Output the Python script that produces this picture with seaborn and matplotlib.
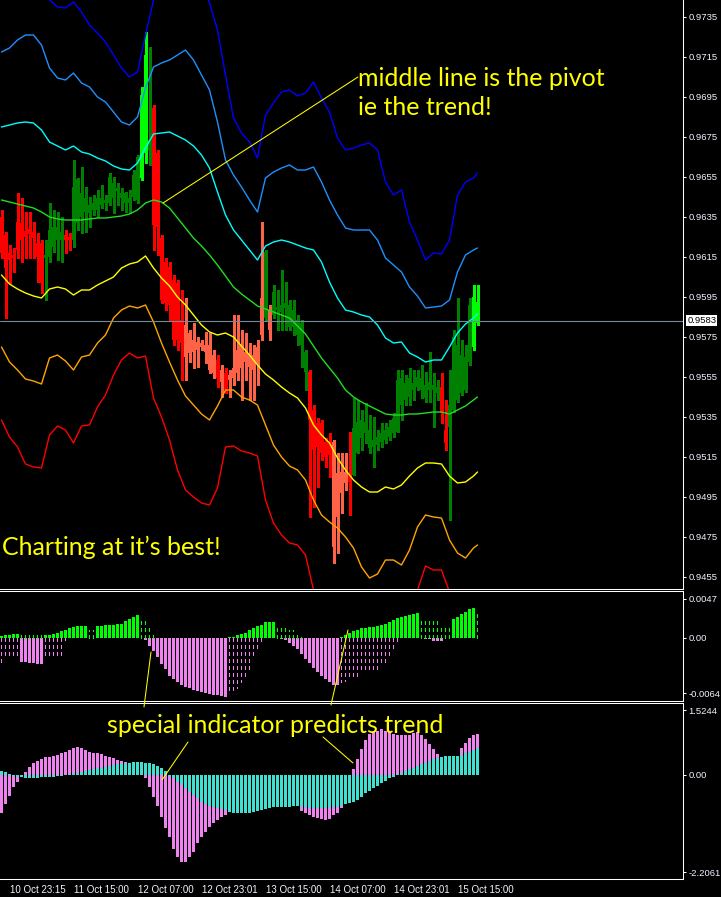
import numpy as np
import pandas as pd
import seaborn as sns
import matplotlib
matplotlib.use("Agg")
import matplotlib.pyplot as plt
from matplotlib.lines import Line2D

# ---------------- data (H1 bars, oldest first) ----------------
# band samples every second bar (+ last bar)
band_bars = list(range(0, 120, 2)) + [119]
blue = [0.97534, 0.97524, 0.97544, 0.97559, 0.97559, 0.97509, 0.97434, 0.97399, 0.97394, 0.97424,
        0.97374, 0.97309, 0.97269, 0.97224, 0.97159, 0.97094, 0.97049, 0.97074, 0.97259, 0.97434,
        0.97559, 0.97634, 0.97659, 0.97659, 0.97609, 0.97524, 0.97419, 0.97284, 0.97059, 0.96844,
        0.96769, 0.96724, 0.96644, 0.96859, 0.96919, 0.96974, 0.96984, 0.96954, 0.96969, 0.97024,
        0.96944, 0.96874, 0.96744, 0.96684, 0.96694, 0.96709, 0.96719, 0.96684, 0.96524, 0.96459,
        0.96484, 0.96324, 0.96234, 0.96134, 0.96169, 0.96164, 0.96234, 0.96459, 0.96524, 0.96544,
        0.96569]
dodger = [0.97174, 0.97194, 0.97234, 0.97259, 0.97259, 0.97209, 0.97094, 0.97044, 0.97034, 0.97069,
          0.97019, 0.96999, 0.96949, 0.96924, 0.96874, 0.96824, 0.96809, 0.96849, 0.96994, 0.97099,
          0.97119, 0.97134, 0.97159, 0.97184, 0.97134, 0.97059, 0.96984, 0.96824, 0.96634, 0.96559,
          0.96499, 0.96434, 0.96374, 0.96544, 0.96574, 0.96594, 0.96609, 0.96584, 0.96584, 0.96599,
          0.96524, 0.96434, 0.96359, 0.96294, 0.96284, 0.96284, 0.96284, 0.96234, 0.96144, 0.96109,
          0.96074, 0.95999, 0.95954, 0.95894, 0.95899, 0.95904, 0.95934, 0.96074, 0.96159, 0.96184,
          0.96194]
cyan = [0.96799, 0.96809, 0.96819, 0.96824, 0.96819, 0.96784, 0.96724, 0.96704, 0.96684, 0.96704,
        0.96674, 0.96664, 0.96644, 0.96629, 0.96604, 0.96589, 0.96584, 0.96619, 0.96694, 0.96764,
        0.96769, 0.96774, 0.96754, 0.96734, 0.96704, 0.96659, 0.96594, 0.96474, 0.96359, 0.96284,
        0.96234, 0.96184, 0.96134, 0.96204, 0.96224, 0.96234, 0.96224, 0.96209, 0.96194, 0.96184,
        0.96124, 0.96024, 0.95944, 0.95884, 0.95874, 0.95859, 0.95849, 0.95809, 0.95744, 0.95719,
        0.95724, 0.95669, 0.95649, 0.95624, 0.95634, 0.95634, 0.95699, 0.95769, 0.95814, 0.95844,
        0.95864]
middle = [0.96434, 0.96424, 0.96414, 0.96404, 0.96394, 0.96374, 0.96349, 0.96339, 0.96334, 0.96334,
          0.96334, 0.96339, 0.96344, 0.96344, 0.96349, 0.96354, 0.96364, 0.96384, 0.96419, 0.96434,
          0.96424, 0.96394, 0.96344, 0.96294, 0.96244, 0.96204, 0.96159, 0.96109, 0.96054, 0.95999,
          0.95964, 0.95934, 0.95904, 0.95889, 0.95874, 0.95859, 0.95844, 0.95804, 0.95764, 0.95704,
          0.95644, 0.95594, 0.95544, 0.95484, 0.95449, 0.95424, 0.95404, 0.95384, 0.95364, 0.95359,
          0.95359, 0.95364, 0.95364, 0.95369, 0.95374, 0.95374, 0.95364, 0.95384, 0.95404, 0.95434,
          0.95449]
yellow = [0.96059, 0.96014, 0.95989, 0.95969, 0.95954, 0.95944, 0.95989, 0.95999, 0.95989, 0.95959,
          0.95984, 0.95984, 0.96009, 0.96029, 0.96049, 0.96094, 0.96114, 0.96124, 0.96154, 0.96094,
          0.96044, 0.96004, 0.95949, 0.95909, 0.95859, 0.95809, 0.95774, 0.95759, 0.95769, 0.95749,
          0.95704, 0.95659, 0.95609, 0.95564, 0.95534, 0.95499, 0.95469, 0.95444, 0.95394, 0.95309,
          0.95259, 0.95219, 0.95144, 0.95084, 0.95034, 0.94999, 0.94974, 0.94974, 0.94999, 0.94989,
          0.95009, 0.95054, 0.95094, 0.95119, 0.95119, 0.95114, 0.95054, 0.95019, 0.95024, 0.95054,
          0.95074]
orange = [0.95699, 0.95624, 0.95584, 0.95539, 0.95529, 0.95514, 0.95644, 0.95659, 0.95629, 0.95584,
          0.95649, 0.95659, 0.95719, 0.95759, 0.95844, 0.95884, 0.95904, 0.95894, 0.95909, 0.95824,
          0.95719, 0.95624, 0.95534, 0.95454, 0.95409, 0.95364, 0.95334, 0.95404, 0.95484, 0.95484,
          0.95449, 0.95434, 0.95409, 0.95309, 0.95209, 0.95149, 0.95104, 0.95084, 0.95034, 0.94934,
          0.94859, 0.94824, 0.94794, 0.94749, 0.94694, 0.94599, 0.94544, 0.94564, 0.94634, 0.94634,
          0.94609, 0.94684, 0.94799, 0.94859, 0.94849, 0.94844, 0.94734, 0.94669, 0.94644, 0.94694,
          0.94709]
red = [0.95334, 0.95249, 0.95199, 0.95114, 0.95099, 0.95094, 0.95259, 0.95304, 0.95284, 0.95219,
       0.95304, 0.95309, 0.95399, 0.95459, 0.95559, 0.95634, 0.95669, 0.95644, 0.95654, 0.95444,
       0.95349, 0.95234, 0.95084, 0.94984, 0.94949, 0.94919, 0.94909, 0.94994, 0.95199, 0.95204,
       0.95179, 0.95169, 0.95154, 0.94934, 0.94819, 0.94759, 0.94719, 0.94709, 0.94659, 0.94484,
       0.94384, 0.94324, 0.94284, 0.94234, 0.94194, 0.94134, 0.94094, 0.94109, 0.94184, 0.94184,
       0.94174, 0.94284, 0.94484, 0.94604, 0.94584, 0.94584, 0.94474, 0.94409, 0.94384, 0.94434,
       0.94449]

# candles
open_ = [0.96349, 0.96259, 0.96169, 0.96159, 0.96324, 0.96319, 0.96279, 0.96289, 0.96274, 0.96219,
         0.96219, 0.96144, 0.96149, 0.96199, 0.96234, 0.96234, 0.96259, 0.96249, 0.96234, 0.96319,
         0.96349, 0.96374, 0.96369, 0.96384, 0.96384, 0.96409, 0.96419, 0.96419, 0.96444, 0.96479,
         0.96444, 0.96419, 0.96419, 0.96449, 0.96434, 0.96544, 0.96669, 0.96684, 0.96894, 0.96669,
         0.96244, 0.96124, 0.96099, 0.96034, 0.96019, 0.95834, 0.95809, 0.95769, 0.95734, 0.95724,
         0.95719, 0.95709, 0.95709, 0.95659, 0.95634, 0.95584, 0.95569, 0.95559, 0.95594, 0.95684,
         0.95709, 0.95674, 0.95669, 0.95659, 0.95699, 0.95944, 0.95844, 0.95884, 0.95859, 0.95884,
         0.95874, 0.95894, 0.95799, 0.95799, 0.95759, 0.95709, 0.95574, 0.95574, 0.95384, 0.95319,
         0.95319, 0.95224, 0.95224, 0.95224, 0.95069, 0.95074, 0.95074, 0.95059, 0.95059, 0.95169,
         0.95244, 0.95269, 0.95194, 0.95199, 0.95209, 0.95224, 0.95234, 0.95249, 0.95269, 0.95274,
         0.95409, 0.95434, 0.95449, 0.95484, 0.95499, 0.95484, 0.95444, 0.95484, 0.95484, 0.95469,
         0.95499, 0.95284, 0.95299, 0.95384, 0.95434, 0.95469, 0.95484, 0.95624, 0.95699, 0.95819]
close_ = [0.96169, 0.96094, 0.96134, 0.96144, 0.96184, 0.96234, 0.96249, 0.96264, 0.96244, 0.96149,
          0.96019, 0.96159, 0.96284, 0.96299, 0.96299, 0.96274, 0.96234, 0.96234, 0.96499, 0.96539,
          0.96469, 0.96444, 0.96409, 0.96419, 0.96444, 0.96444, 0.96434, 0.96549, 0.96519, 0.96494,
          0.96469, 0.96469, 0.96444, 0.96559, 0.96649, 0.96959, 0.97159, 0.96734, 0.96309, 0.96299,
          0.95934, 0.95919, 0.95909, 0.95734, 0.95734, 0.95719, 0.95649, 0.95669, 0.95674, 0.95684,
          0.95699, 0.95674, 0.95584, 0.95569, 0.95544, 0.95524, 0.95484, 0.95534, 0.95544, 0.95569,
          0.95594, 0.95624, 0.95599, 0.95584, 0.95619, 0.95759, 0.96174, 0.95784, 0.95974, 0.95899,
          0.95909, 0.95919, 0.95909, 0.95884, 0.95834, 0.95819, 0.95674, 0.95334, 0.95184, 0.95199,
          0.95169, 0.95149, 0.95159, 0.94699, 0.94849, 0.94969, 0.95019, 0.95024, 0.95294, 0.95324,
          0.95334, 0.95324, 0.95284, 0.95234, 0.95249, 0.95269, 0.95284, 0.95299, 0.95344, 0.95534,
          0.95544, 0.95519, 0.95544, 0.95519, 0.95549, 0.95544, 0.95509, 0.95524, 0.95509, 0.95499,
          0.95369, 0.95219, 0.95409, 0.95749, 0.95709, 0.95659, 0.95649, 0.95909, 0.95949, 0.95924]
high_ = [0.96384, 0.96274, 0.96209, 0.96194, 0.96469, 0.96444, 0.96374, 0.96374, 0.96324, 0.96269,
         0.96234, 0.96234, 0.96419, 0.96384, 0.96374, 0.96349, 0.96284, 0.96269, 0.96634, 0.96544,
         0.96599, 0.96499, 0.96449, 0.96459, 0.96484, 0.96509, 0.96459, 0.96569, 0.96549, 0.96519,
         0.96494, 0.96474, 0.96484, 0.96584, 0.96659, 0.96999, 0.97274, 0.97199, 0.96909, 0.96684,
         0.96259, 0.96144, 0.96124, 0.96059, 0.96034, 0.95984, 0.95944, 0.95784, 0.95819, 0.95749,
         0.95734, 0.95774, 0.95769, 0.95684, 0.95659, 0.95609, 0.95594, 0.95584, 0.95859, 0.95859,
         0.95784, 0.95769, 0.95719, 0.95709, 0.95734, 0.96324, 0.96184, 0.95909, 0.96009, 0.95984,
         0.96084, 0.96024, 0.95934, 0.95934, 0.95859, 0.95834, 0.95684, 0.95584, 0.95409, 0.95344,
         0.95334, 0.95244, 0.95269, 0.95234, 0.95169, 0.95169, 0.95169, 0.95274, 0.95444, 0.95434,
         0.95384, 0.95419, 0.95359, 0.95349, 0.95284, 0.95319, 0.95319, 0.95334, 0.95369, 0.95584,
         0.95584, 0.95559, 0.95594, 0.95584, 0.95584, 0.95609, 0.95574, 0.95674, 0.95569, 0.95534,
         0.95569, 0.95434, 0.95584, 0.95784, 0.95944, 0.95734, 0.95709, 0.95944, 0.96009, 0.96009]
low_ = [0.96144, 0.95844, 0.96019, 0.96074, 0.96144, 0.96124, 0.96144, 0.96144, 0.96144, 0.96024,
        0.95969, 0.95934, 0.96124, 0.96174, 0.96134, 0.96124, 0.96169, 0.96184, 0.96199, 0.96284,
        0.96269, 0.96274, 0.96299, 0.96359, 0.96349, 0.96394, 0.96384, 0.96409, 0.96369, 0.96409,
        0.96384, 0.96374, 0.96369, 0.96434, 0.96419, 0.96534, 0.96619, 0.96609, 0.96184, 0.96159,
        0.95919, 0.95884, 0.95834, 0.95709, 0.95684, 0.95534, 0.95534, 0.95624, 0.95594, 0.95599,
        0.95684, 0.95619, 0.95569, 0.95544, 0.95499, 0.95449, 0.95469, 0.95449, 0.95509, 0.95534,
        0.95434, 0.95534, 0.95434, 0.95434, 0.95509, 0.95734, 0.95834, 0.95734, 0.95844, 0.95784,
        0.95784, 0.95784, 0.95784, 0.95759, 0.95709, 0.95599, 0.95484, 0.94849, 0.94899, 0.94999,
        0.95134, 0.95099, 0.95049, 0.94619, 0.94669, 0.94869, 0.94984, 0.94859, 0.95059, 0.95169,
        0.95184, 0.95219, 0.95169, 0.95099, 0.95184, 0.95199, 0.95219, 0.95234, 0.95249, 0.95274,
        0.95334, 0.95409, 0.95409, 0.95434, 0.95484, 0.95444, 0.95424, 0.95424, 0.95299, 0.95434,
        0.95319, 0.95184, 0.94834, 0.95374, 0.95424, 0.95459, 0.95474, 0.95609, 0.95684, 0.95809]
# R = red, S = salmon, G = dark green, L = lime
candle_kind = list("RRRRRRRRRR" "RGGGGGRRGG" "GGGGGGGGGG" "GGGGGLLGRR" "RRRRRRSSSS" "SSSSRSRSSS"
                   "SSSSSSGSGG" "GGGGGGGRRR" "RRRSSSSRGG" "GGGGGGGGGG" "GGGGGGGGGG" "RRGGGGGGLL")
current_price = 0.9583
price_ticks = [0.9455, 0.9475, 0.9495, 0.9515, 0.9535, 0.9555, 0.9575, 0.9595,
               0.9615, 0.9635, 0.9655, 0.9675, 0.9695, 0.9715, 0.9735]

# indicator 1: solid histogram and dotted histogram
osc_main = [0.00017, 0.00027, 0.00027, 0.00038, 0.00038, -0.00247, -0.00247, -0.00257, -0.00257, -0.00271,
            -0.00271, 0.00027, 0.00027, 0.00038, 0.00051, 0.00062, 0.00079, 0.00096, 0.00103, 0.00113,
            0.0012, 0.0012, 0.0, 0.0, 0.0012, 0.0012, 0.0013, 0.0013, 0.0013, 0.00137,
            0.00141, 0.00165, 0.00192, 0.00209, 0.00223, 0.0, -0.00024, -0.00082, -0.00137, -0.00196,
            -0.00271, -0.00322, -0.00384, -0.00418, -0.00453, -0.00477, -0.00497, -0.00511, -0.00528, -0.00539,
            -0.00549, -0.00556, -0.00566, -0.00576, -0.00583, -0.0059, -0.00597, 0.0001, 0.0001, 0.00021,
            0.00034, 0.00051, 0.00072, 0.00096, 0.00113, 0.0013, 0.00154, 0.00161, 0.00161, -0.00007,
            -0.00014, -0.00024, -0.00051, -0.00082, -0.00117, -0.00168, -0.00213, -0.00257, -0.00309, -0.0035,
            -0.00391, -0.00418, -0.00453, -0.00477, -0.00477, 0.0001, 0.00021, 0.00045, 0.00062, 0.00079,
            0.00096, 0.00096, 0.00106, 0.00106, 0.00113, 0.00123, 0.00141, 0.00154, 0.00175, 0.00199,
            0.00209, 0.00216, 0.00226, 0.0024, 0.00244, -0.00007, -0.00014, -0.00014, -0.00031, -0.00031,
            -0.00031, 0.0, 0.0, 0.00189, 0.00209, 0.00233, 0.00261, 0.00285, 0.00295, 0.0]
osc_dots = [-0.00254, -0.00213, -0.00213, -0.00213, -0.00213, 0.00021, 0.00021, 0.00021, 0.00021, 0.00021,
            0.00021, -0.00213, -0.00213, -0.00213, -0.00213, -0.00196, -0.00024, 0, 0, 0,
            0, 0, 0.00079, 0.00079, 0, 0, 0, 0, 0, 0,
            0, 0, 0, 0, 0, 0.00199, 0.00189, 0.0013, 0.00062, 0,
            0, 0, 0, 0, 0, 0, 0, 0, 0, 0,
            0, 0, 0, 0, 0, 0, 0, -0.00563, -0.00563, -0.00504,
            -0.00453, -0.00391, -0.00322, -0.00206, -0.0011, -0.00075, 0, 0, 0, 0.00137,
            0.00137, 0.0013, 0.00079, 0.00079, 0.00027, 0.0001, 0, 0, 0, 0,
            0, 0, 0, 0, 0, -0.00453, -0.00436, -0.00401, -0.00401, -0.00384,
            -0.00333, -0.00333, -0.00333, -0.00316, -0.00316, -0.00281, -0.00254, -0.00196, -0.00137, -0.00069,
            0, 0, 0, 0, 0, 0.00206, 0.00206, 0.00206, 0.00199, 0.00199,
            0.00137, 0.00137, 0.00137, 0, 0, 0, 0, 0, 0, 0.00268]
osc_lo, osc_hi = -0.0064, 0.0047

# indicator 2: violet and turquoise histograms
trend_violet = [-0.798, -0.614, -0.445, -0.261, -0.141, -0.021, 0.071, 0.177, 0.247, 0.297,
                0.332, 0.374, 0.388, 0.402, 0.424, 0.459, 0.494, 0.53, 0.565, 0.586,
                0.565, 0.53, 0.494, 0.473, 0.459, 0.438, 0.41, 0.374, 0.353, 0.318,
                0.297, 0.282, 0.247, 0.233, 0.212, 0.141, -0.056, -0.261, -0.459, -0.657,
                -0.883, -1.116, -1.307, -1.575, -1.731, -1.837, -1.837, -1.745, -1.625, -1.448,
                -1.307, -1.201, -1.095, -1.024, -0.954, -0.897, -0.848, -0.763, -0.706, -0.657,
                -0.614, -0.579, -0.551, -0.53, -0.516, -0.516, -0.516, -0.53, -0.551, -0.579,
                -0.607, -0.636, -0.657, -0.643, -0.643, -0.756, -0.798, -0.848, -0.883, -0.918,
                -0.939, -0.954, -0.932, -0.848, -0.798, -0.706, -0.614, -0.53, 0.127, 0.332,
                0.544, 0.741, 0.861, 0.904, 0.939, 0.967, 0.939, 0.904, 0.861, 0.847,
                0.847, 0.847, 0.847, 0.883, 0.904, 0.847, 0.755, 0.65, 0.544, 0.445,
                0.353, 0.374, 0.374, 0.388, 0.402, 0.565, 0.685, 0.791, 0.847, 0.868]
trend_teal = [0.085, 0.071, 0.021, -0.021, -0.035, -0.049, -0.071, -0.071, -0.056, -0.056,
              -0.049, -0.049, -0.035, -0.035, -0.021, -0.014, 0.0, 0.021, 0.035, 0.049,
              0.071, 0.092, 0.106, 0.127, 0.141, 0.155, 0.177, 0.191, 0.212, 0.226,
              0.233, 0.247, 0.261, 0.268, 0.268, 0.268, 0.261, 0.247, 0.226, 0.191,
              0.141, 0.092, -0.021, -0.071, -0.141, -0.212, -0.282, -0.353, -0.424, -0.494,
              -0.565, -0.614, -0.657, -0.685, -0.706, -0.727, -0.741, -0.777, -0.812, -0.812,
              -0.812, -0.812, -0.798, -0.777, -0.763, -0.741, -0.727, -0.706, -0.685, -0.671,
              -0.671, -0.671, -0.671, -0.657, -0.657, -0.671, -0.685, -0.692, -0.692, -0.692,
              -0.692, -0.692, -0.685, -0.685, -0.671, -0.657, -0.621, -0.6, -0.579, -0.53,
              -0.459, -0.388, -0.332, -0.282, -0.233, -0.177, -0.12, -0.071, -0.035, 0.021,
              0.049, 0.085, 0.12, 0.155, 0.191, 0.226, 0.261, 0.297, 0.332, 0.367,
              0.388, 0.402, 0.402, 0.402, 0.409, 0.424, 0.459, 0.494, 0.53, 0.579]
trend_lo, trend_hi = -2.2061, 1.5244

time_label_bars = [2, 18, 34, 50, 66, 82, 98, 114]
time_labels = ["10 Oct 23:15", "11 Oct 15:00", "12 Oct 07:00", "12 Oct 23:01",
               "13 Oct 15:00", "14 Oct 07:00", "14 Oct 23:01", "15 Oct 15:00"]

bands = {"blue": blue, "dodger": dodger, "cyan": cyan, "middle": middle,
         "yellow": yellow, "orange": orange, "red": red}
band_colors = {"blue": "#0000FF", "dodger": "#1E90FF", "cyan": "#00FFFF", "middle": "#22DD22",
               "yellow": "#FFFF00", "orange": "#FFA500", "red": "#FF0000"}
kind_colors = {"R": "#FF0000", "S": "#FF6347", "G": "#008000", "L": "#00FF00"}

# ---------------- figure ----------------
sns.set_theme(style="dark", rc={"axes.facecolor": "black", "figure.facecolor": "black",
                                "axes.grid": False})
plt.rcParams["font.family"] = ["Liberation Sans", "DejaVu Sans"]
plt.rcParams["axes.unicode_minus"] = False

W, H = 721, 897
fig = plt.figure(figsize=(W / 100, H / 100), dpi=100)


def panel(top, bottom):
    return fig.add_axes([0, 1 - bottom / H, 683 / W, (bottom - top) / H])


ax1 = panel(0, 589)
ax2 = panel(591, 701)
ax3 = panel(703, 879)

x = np.arange(len(open_))
cols = [kind_colors[k] for k in candle_kind]

# price panel
ax1.vlines(x, low_, high_, colors=cols, linewidth=0.8, antialiased=False, zorder=2)
ax1.bar(x, np.array(close_) - np.array(open_), bottom=open_, width=0.82,
        color=cols, linewidth=0, antialiased=False, zorder=3)
band_df = pd.concat([pd.DataFrame({"bar": band_bars, "price": v, "band": k}) for k, v in bands.items()])
sns.lineplot(data=band_df, x="bar", y="price", hue="band", palette=band_colors,
             estimator=None, sort=False, linewidth=1.0, legend=False, ax=ax1, zorder=4)
ax1.axhline(current_price, color="#778899", linewidth=0.8, zorder=5)
ax1.set_ylim(0.94489, 0.97434)
ax1.set_yticks(price_ticks)
ax1.set_yticklabels([f"{t:.4f}" for t in price_ticks])
ax1.annotate(f"{current_price:.4f}", xy=(1, current_price), xycoords=("axes fraction", "data"),
             xytext=(3.0, 0), textcoords="offset points", va="center", ha="left",
             fontsize=6.8, color="black", annotation_clip=False,
             bbox=dict(boxstyle="square,pad=0.12", fc="white", ec="none"))

# indicator 1
main = np.array(osc_main)
ax2.bar(x, main, width=0.78, color=np.where(main >= 0, "#00FF00", "#EE82EE"),
        linewidth=0, antialiased=False)
dots = np.array(osc_dots)
m = dots != 0
ax2.vlines(x[m] - 0.12, 0, dots[m], colors=np.where(dots[m] > 0, "#00FF00", "#EE82EE"),
           linestyles=(0, (3, 3)), linewidth=0.8, antialiased=False)
ax2.set_ylim(osc_lo, osc_hi)
step = (osc_hi - osc_lo) / 110
ax2.set_yticks([osc_hi - 8 * step, 0, osc_lo + 8 * step])
ax2.set_yticklabels([f"{osc_hi:.4f}", "0.00", f"{osc_lo:.4f}"])

# indicator 2
ax3.bar(x, trend_violet, width=0.75, color="#EE82EE", linewidth=0, antialiased=False)
ax3.bar(x, trend_teal, width=0.75, color="#40E0D0", linewidth=0, antialiased=False)
ax3.set_ylim(trend_lo, trend_hi)
step = (trend_hi - trend_lo) / 176
ax3.set_yticks([trend_hi - 7 * step, 0, trend_lo + 7 * step])
ax3.set_yticklabels([f"{trend_hi:.4f}", "0.00", f"{trend_lo:.4f}"])
ax3.set_xticks(time_label_bars)
ax3.set_xticklabels(time_labels, ha="left")

for ax in (ax1, ax2, ax3):
    ax.set_xlim(-0.375, 170.375)
    ax.set_xlabel("")
    ax.set_ylabel("")
    ax.yaxis.tick_right()
    ax.tick_params(axis="y", colors="white", labelcolor="#F0F4FF", length=2.5, width=0.75,
                   pad=1.2, labelsize=6.8, direction="out", left=False, right=True)
    for s in ("top", "bottom", "right"):
        ax.spines[s].set_color("white")
        ax.spines[s].set_linewidth(0.75)
    ax.spines["left"].set_visible(False)
    if ax is not ax3:
        ax.tick_params(axis="x", bottom=False, labelbottom=False)
ax1.spines["top"].set_visible(False)
ax3.tick_params(axis="x", colors="white", labelcolor="#F0F4FF", length=3, width=0.75,
                pad=1.5, labelsize=7, direction="out")

# annotations
ann_font = dict(family=["Lato", "DejaVu Sans"], fontsize=18, color="#FFFF00", va="baseline")
fig.text(358 / W, 1 - 86 / H, "middle line is the pivot", **ann_font)
fig.text(358 / W, 1 - 115 / H, "ie the trend!", **ann_font)
fig.text(2 / W, 1 - 555 / H, "Charting at it\u2019s best!", **ann_font)
fig.text(107 / W, 1 - 733 / H, "special indicator predicts trend", **ann_font)
pointers = [((358, 77), (163, 203)), ((144, 707), (151, 652)), ((331, 705), (348, 630)),
            ((188, 742), (162, 780)), ((323, 737), (353, 763))]
for (x0, y0), (x1, y1) in pointers:
    fig.add_artist(Line2D([x0 / W, x1 / W], [1 - y0 / H, 1 - y1 / H], color="#FFFF00", linewidth=0.75))

fig.savefig("out.png", dpi=100, facecolor="black")
